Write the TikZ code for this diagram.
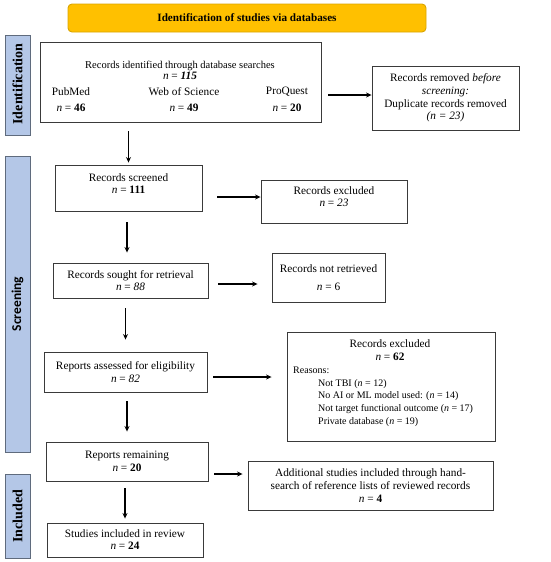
\documentclass[tikz,border=0pt]{standalone}
\usepackage{fontspec}
\setmainfont{Liberation Serif}
\newfontfamily\sidesans{Carlito}
\usetikzlibrary{arrows.meta}
\definecolor{bannerfill}{HTML}{FFC000}
\definecolor{bannerline}{HTML}{D9A400}
\definecolor{sidefill}{HTML}{B4C7E7}
\definecolor{sideline}{HTML}{5F6B7D}
\definecolor{boxline}{HTML}{3A3A3A}
\tikzset{
  box/.style={draw=boxline, line width=0.9pt, inner sep=0pt, align=center,
    font=\fontsize{11.3}{12.8}\selectfont},
  txt/.style={inner sep=0pt, font=\fontsize{11.3}{12.8}\selectfont},
  small/.style={inner sep=0pt, font=\fontsize{10}{12.8}\selectfont},
  flow/.style={-{Stealth[length=5.5pt,width=5pt]}, line width=1.2pt},
  side/.style={draw=sideline, fill=sidefill, line width=0.9pt, inner sep=0pt},
  sidelabel/.style={rotate=90, inner sep=0pt, font=\bfseries\fontsize{14}{16}\selectfont},
}
\newcommand{\nn}{\textit{n}}
\begin{document}
\begin{tikzpicture}[x=1pt,y=-1pt]
\useasboundingbox (0,0) rectangle (550,562);

% banner
\node[draw=bannerline, fill=bannerfill, line width=0.9pt, rounded corners=4pt,
  minimum width=358pt, minimum height=28pt, inner sep=0pt,
  font=\bfseries\fontsize{11.2}{13}\selectfont] (banner) at (247,18)
  {Identification of studies via databases};

% side bars
\node[side, minimum width=25pt, minimum height=100pt] (sideid) at (17.5,85) {};
\node[sidelabel] (sideidlab) at (17.5,84) {Identification};
\node[side, minimum width=25pt, minimum height=296pt] (sidescr) at (17.5,304) {};
\node[sidelabel, font=\sidesans\bfseries\fontsize{13.5}{15}\selectfont] (sidescrlab) at (17.5,304) {Screening};
\node[side, minimum width=25pt, minimum height=84pt] (sideinc) at (17.5,516) {};
\node[sidelabel] (sideinclab) at (17.5,516) {Included};

% identification box
\node[box, minimum width=281pt, minimum height=80pt] (ident) at (180.5,82) {};
\node[txt, font=\fontsize{10.5}{12.8}\selectfont] (identt) at (180,66) {Records identified through database searches};
\node[txt] (identn) at (180,76) {\nn{} = \textbf{\textit{115}}};
\node[txt] (pub) at (71,92) {PubMed};
\node[txt] (wos) at (184,92) {Web of Science};
\node[txt] (pq) at (287,92) {ProQuest};
\node[txt] (pubn) at (71,108) {\nn{} = \textbf{46}};
\node[txt] (wosn) at (184,108) {\nn{} = \textbf{49}};
\node[txt] (pqn) at (287,108) {\nn{} = \textbf{20}};

% removed
\node[box, minimum width=147pt, minimum height=64pt] (removed) at (445.5,98)
  {Records removed \textit{before}\\ \textit{screening:}\\ Duplicate records removed\\ \textit{(\nn{} = 23)}};

% screening
\node[box, minimum width=147pt, minimum height=46pt] (screened) at (128.5,188)
  {Records screened\\ \nn{} = \textbf{111}\\[-4pt]\mbox{}};
\node[box, minimum width=146pt, minimum height=43pt] (excl1) at (334,201.5)
  {Records excluded\\ \nn{} = \textit{23}\\[-3pt]\mbox{}};
\node[box, minimum width=155pt, minimum height=35pt] (sought) at (130.5,280.5)
  {Records sought for retrieval\\ \nn{} = \textit{88}};
\node[box, minimum width=113pt, minimum height=49pt] (notret) at (328.5,277.5)
  {Records not retrieved\\[5pt] \nn{} = 6};
\node[box, minimum width=163pt, minimum height=40pt] (assessed) at (125.5,372)
  {Reports assessed for eligibility\\ \nn{} = \textit{82}};
\node[box, minimum width=208pt, minimum height=109pt] (excl2) at (391,386.5) {};
\node[txt] (excl2t) at (390,344) {Records excluded};
\node[txt] (excl2n) at (390,357) {\nn{} = \textbf{62}};
\node[small, anchor=west] (reasons) at (293,370) {Reasons:};
\node[small, anchor=west] (r1) at (318,384) {Not TBI (\nn{} = 12)};
\node[small, anchor=west] (r2) at (318,396.5) {No AI or ML model used: (\nn{} = 14)};
\node[small, anchor=west] (r3) at (318,409.5) {Not target functional outcome (\nn{} = 17)};
\node[small, anchor=west] (r4) at (318,422.5) {Private database (\nn{} = 19)};
\node[box, minimum width=162pt, minimum height=39pt] (remaining) at (127,461.5)
  {Reports remaining\\ \nn{} = \textbf{20}};
\node[box, minimum width=245pt, minimum height=49pt] (additional) at (370.5,485.5)
  {Additional studies included through hand-\\ search of reference lists of reviewed records\\ \nn{} = \textbf{4}};

% included
\node[box, minimum width=156pt, minimum height=34pt] (studies) at (125,540)
  {\mbox{}\\[-6pt]Studies included in review\\ \nn{} = \textbf{24}};

% helper coordinates for connector ends
\coordinate (a1) at ([xshift=7pt,yshift=-13pt]ident.east);
\coordinate (a2) at ([yshift=-9pt]ident.south);
\coordinate (a3) at ([xshift=15pt,yshift=-9pt]screened.east);
\coordinate (a4) at ([xshift=-1.5pt,yshift=-11pt]screened.south);
\coordinate (a4e) at ([yshift=10pt]sought.north);
\coordinate (a5) at ([xshift=10pt,yshift=-3.5pt]sought.east);
\coordinate (a5e) at ([xshift=-14pt]notret.west);
\coordinate (a6) at ([yshift=-10pt]sought.south);
\coordinate (a7) at ([xshift=6pt,yshift=-5pt]assessed.east);
\coordinate (a7e) at ([xshift=-15pt]excl2.west);
\coordinate (a8) at ([yshift=-9pt]assessed.south);
\coordinate (a9) at ([xshift=6pt,yshift=-12.5pt]remaining.east);
\coordinate (a9e) at ([xshift=-5pt]additional.west);
\coordinate (a10) at ([yshift=-7pt]remaining.south);

% connectors
\draw[flow] (a1) -- (a1 -| removed.west);
\draw[flow] (screened.north |- a2) -- ([yshift=2pt]screened.north);
\draw[flow] (a3) -- (a3 -| excl1.west);
\draw[flow] (a4) -- (a4 |- a4e);
\draw[flow] (a5) -- (a5 -| a5e);
\draw[flow] (assessed.north |- a6) -- ([yshift=12pt]assessed.north);
\draw[flow] (a7) -- (a7 -| a7e);
\draw[flow] (remaining.north |- a8) -- ([yshift=10pt]remaining.north);
\draw[flow] (a9) -- (a9 -| a9e);
\draw[flow] (studies.north |- a10) -- ([yshift=4pt]studies.north);
\end{tikzpicture}
\end{document}
